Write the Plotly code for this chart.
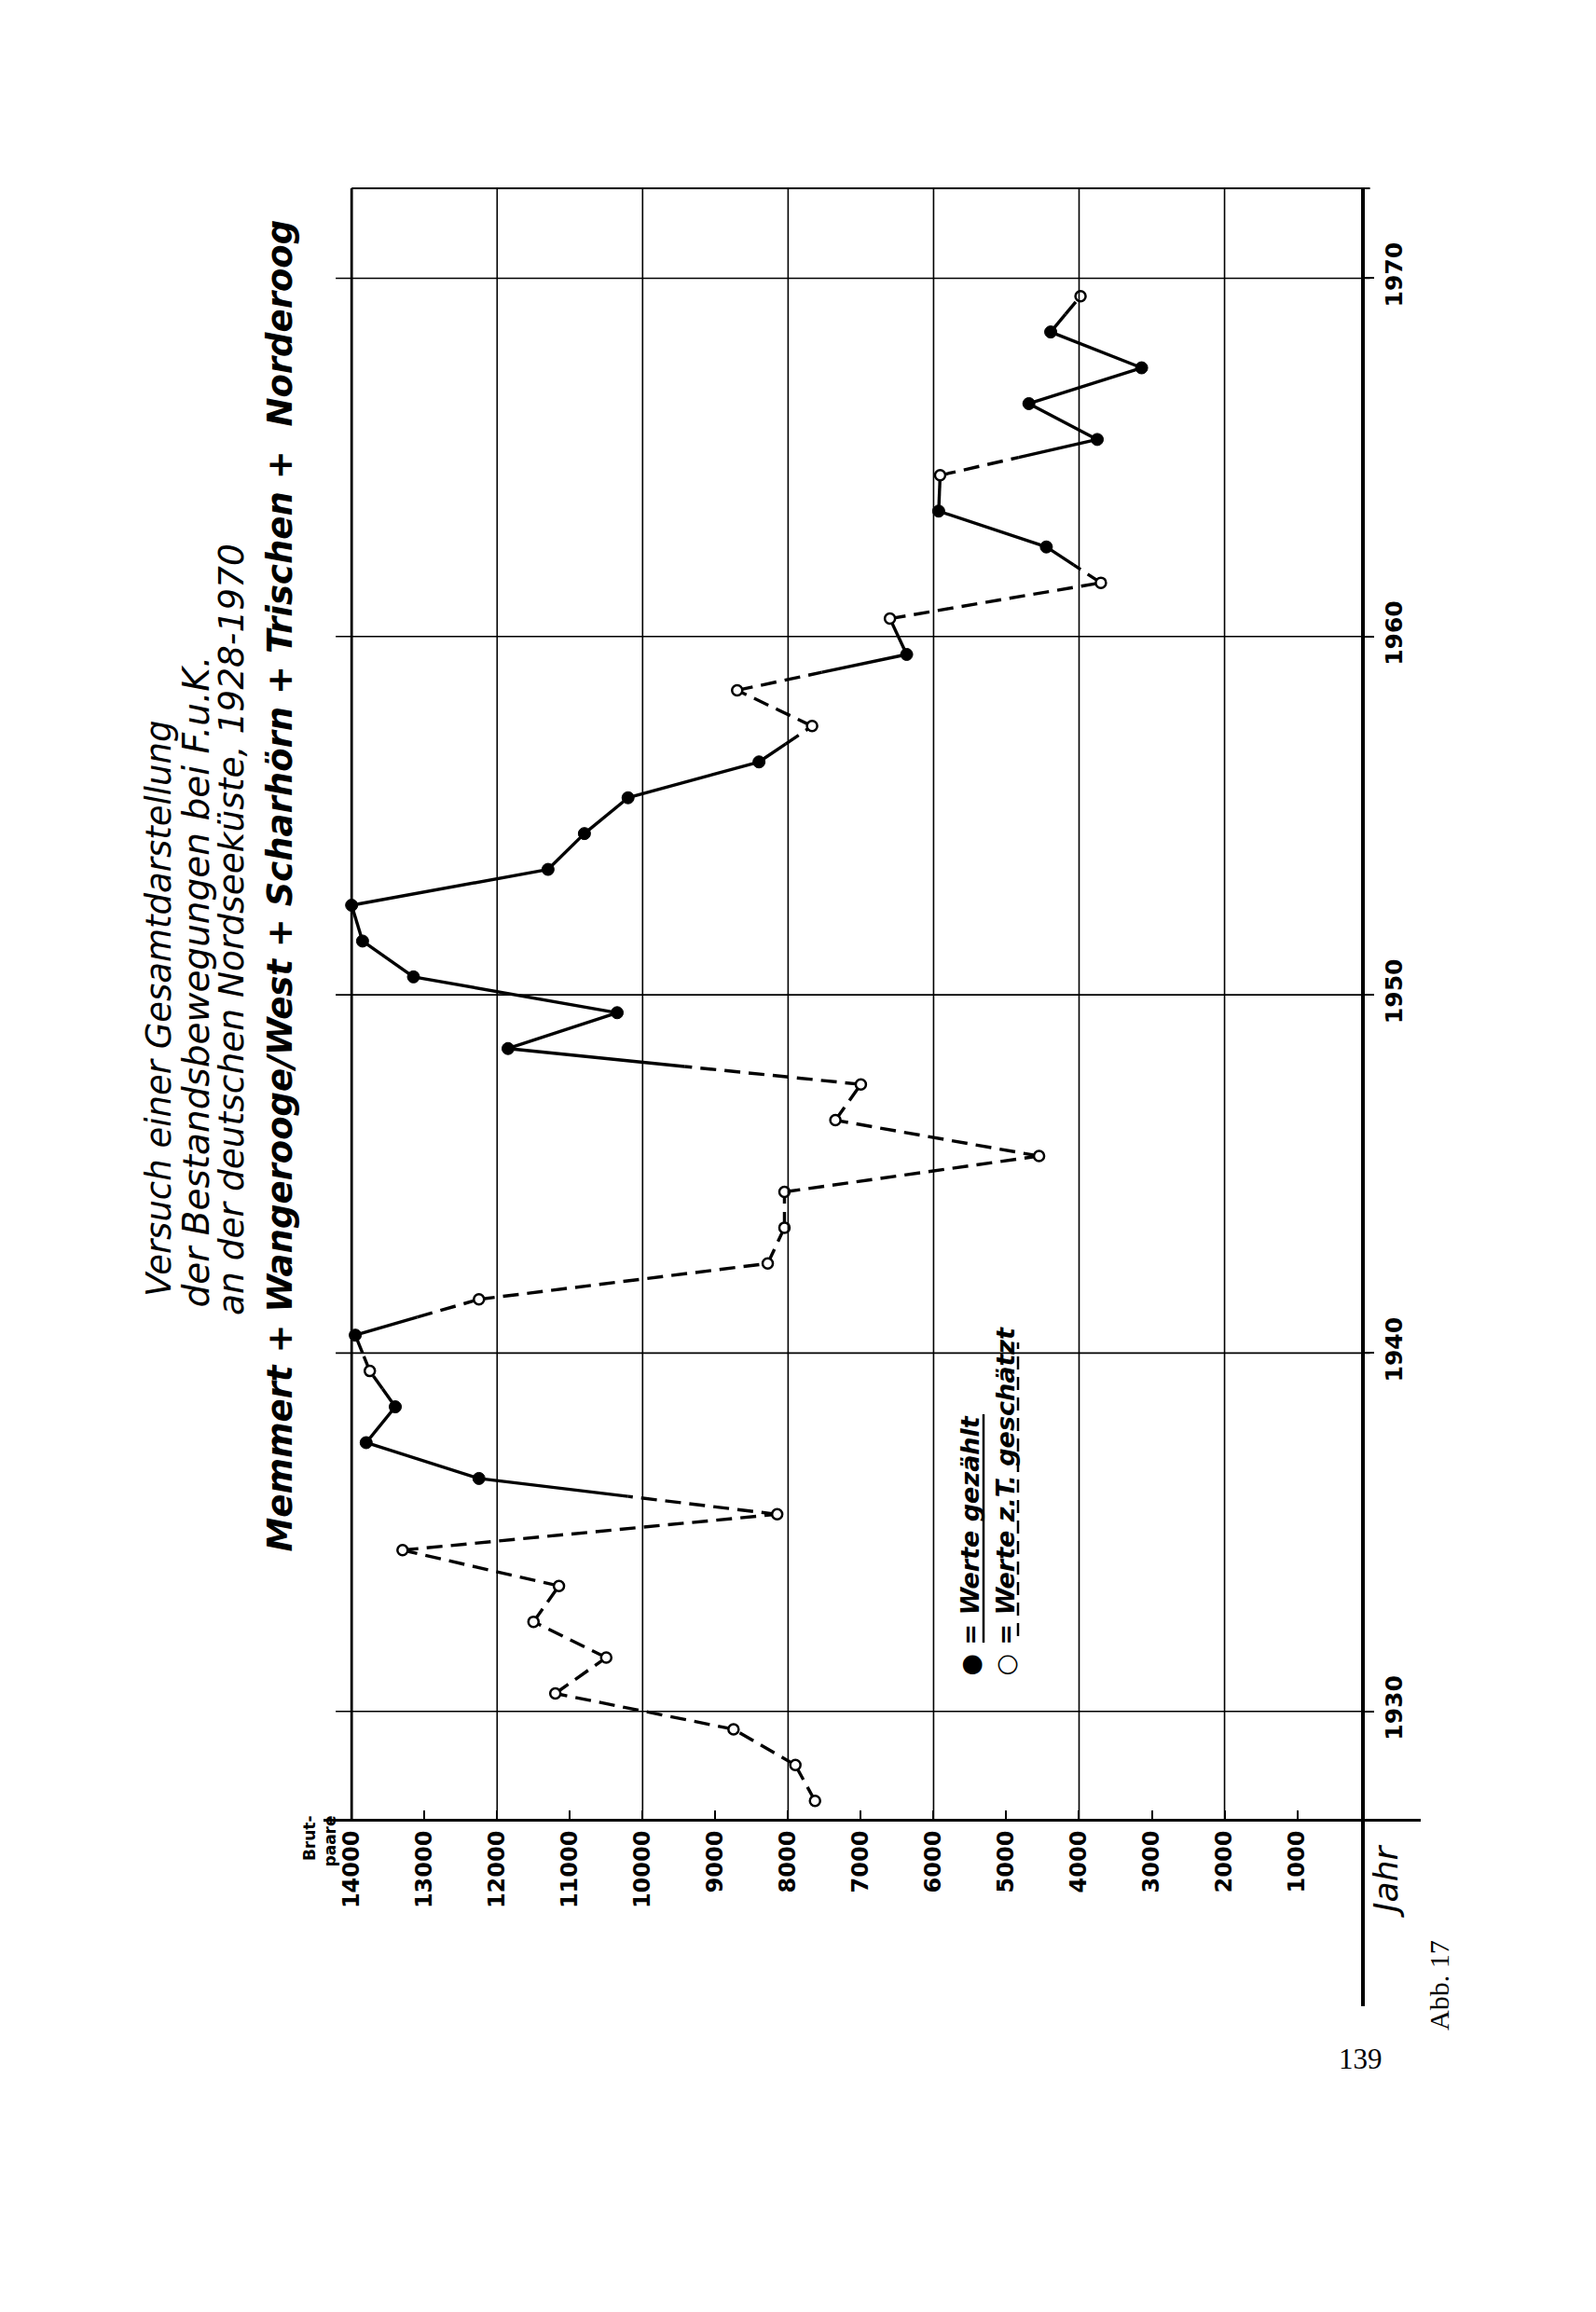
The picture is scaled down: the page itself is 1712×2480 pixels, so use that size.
import plotly.graph_objects as go

# ---------------- data ----------------
YEARS = list(range(1928, 1971))
PAIRS = [7630, 7900, 8750, 11200, 10500, 11500, 11150, 13300, 8150, 12250,
         13800, 13400, 13750, 13950, 12250, 8280, 8050, 8050, 4550, 7350,
         7000, 11850, 10350, 13150, 13850, 14000, 11300, 10800, 10200, 8400,
         7670, 8700, 6370, 6600, 3700, 4450, 5930, 5910, 3750, 4690,
         3140, 4390, 3980]
# True = "Werte gezählt" (filled dot), False = "Werte z.T. geschätzt" (open circle)
COUNTED = [False, False, False, False, False, False, False, False, False, True,
           True, True, False, True, False, False, False, False, False, False,
           False, True, True, True, True, True, True, True, True, True,
           False, False, True, False, False, True, True, False, True, True,
           True, True, False]

VALUE_TICKS = list(range(1000, 15000, 1000))
VALUE_TICK_TEXT = [str(v) for v in VALUE_TICKS]
GRID_VALUES = list(range(2000, 15000, 2000))
YEAR_TICKS = [1930, 1940, 1950, 1960, 1970]
YEAR_TICK_TEXT = [str(y) for y in YEAR_TICKS]

TITLE_LINES = ["Versuch einer Gesamtdarstellung",
               "der Bestandsbewegungen bei F.u.K.",
               "an der deutschen Nordseeküste, 1928-1970"]
TITLE_ISLANDS = "Memmert + Wangerooge/West + Scharhörn + Trischen +  Norderoog"
LEGEND_LABELS = ["Werte gezählt", "Werte z.T. geschätzt"]
VALUE_AXIS_LABEL = "Brut-<br>paare"
YEAR_AXIS_LABEL = "Jahr"
FIG_LABEL = "Abb. 17"
PAGE_NO = "139"

# ---------------- layout geometry ----------------
OFF = 8  # default body margin of the html page
W, H = 1712 - OFF, 2480 - OFF
# plot area in page pixels: left 347, right 1516, top 202, bottom 1943
L, R, T, B = 347 - OFF, 1712 - 1516 - OFF, 202 - OFF, 2480 - 1943 - OFF
PW, PH = W - L - R, H - T - B
X_RANGE = [14387, -697]
Y_RANGE = [1927.0, 1972.51]


def pxp(x):
    """page pixel x -> paper coordinate"""
    return (x - OFF - L) / PW


def pyp(y):
    """page pixel y -> paper coordinate"""
    return (H - B - (y - OFF)) / PH


FONT = "DejaVu Sans"

# each year is drawn in the middle of its year band, as in the original
ypos = [y - 0.5 for y in YEARS]

solid_x, solid_y, dash_x, dash_y = [], [], [], []
for i in range(len(YEARS) - 1):
    x0, y0, x1, y1 = PAIRS[i], ypos[i], PAIRS[i + 1], ypos[i + 1]
    c0, c1 = COUNTED[i], COUNTED[i + 1]
    if c0 and c1:
        solid_x += [x0, x1, None]
        solid_y += [y0, y1, None]
    elif not c0 and not c1:
        dash_x += [x0, x1, None]
        dash_y += [y0, y1, None]
    else:
        mx, my = (x0 + x1) / 2, (y0 + y1) / 2
        if c0:
            solid_x += [x0, mx, None]
            solid_y += [y0, my, None]
            dash_x += [mx, x1, None]
            dash_y += [my, y1, None]
        else:
            dash_x += [x0, mx, None]
            dash_y += [y0, my, None]
            solid_x += [mx, x1, None]
            solid_y += [my, y1, None]

fig = go.Figure()
fig.add_trace(go.Scatter(x=solid_x, y=solid_y, mode="lines",
                         line=dict(color="black", width=3.4),
                         hoverinfo="skip", showlegend=False))
fig.add_trace(go.Scatter(x=dash_x, y=dash_y, mode="lines",
                         line=dict(color="black", width=3.4, dash="17px,9px"),
                         hoverinfo="skip", showlegend=False))
fig.add_trace(go.Scatter(
    x=[v for v, c in zip(PAIRS, COUNTED) if c],
    y=[y for y, c in zip(ypos, COUNTED) if c],
    mode="markers", marker=dict(size=13, color="black", line=dict(width=1, color="black")),
    showlegend=False))
fig.add_trace(go.Scatter(
    x=[v for v, c in zip(PAIRS, COUNTED) if not c],
    y=[y for y, c in zip(ypos, COUNTED) if not c],
    mode="markers", marker=dict(size=11, color="white", line=dict(width=2.5, color="black")),
    showlegend=False))

shapes = []
# vertical grid lines
for v in GRID_VALUES:
    shapes.append(dict(type="line", xref="x", yref="paper", x0=v, x1=v, y0=0, y1=1,
                       line=dict(color="black", width=2.8 if v == 14000 else 1.6)))
# horizontal (year) grid lines
for yv in YEAR_TICKS:
    shapes.append(dict(type="line", xref="x", yref="y", x0=14219, x1=0, y0=yv, y1=yv,
                       line=dict(color="black", width=1.6)))
# top frame line
shapes.append(dict(type="line", xref="x", yref="paper", x0=14000, x1=0, y0=1, y1=1,
                   line=dict(color="black", width=1.8)))
# extension of the heavy year axis below the value axis
shapes.append(dict(type="line", xref="paper", yref="paper", x0=pxp(1462), x1=pxp(1462),
                   y0=0, y1=pyp(2152), line=dict(color="black", width=4)))
# legend underlines
shapes.append(dict(type="line", xref="paper", yref="paper", x0=pxp(1055), x1=pxp(1055),
                   y0=pyp(1762), y1=pyp(1517), line=dict(color="black", width=2.5)))
shapes.append(dict(type="line", xref="paper", yref="paper", x0=pxp(1092), x1=pxp(1092),
                   y0=pyp(1755), y1=pyp(1440), line=dict(color="black", width=2.5, dash="14px,8px")))

annotations = []
title_spec = [(170, 1393, 37), (210, 1405, 39), (248, 1413, 37.5)]
for txt, (xx, yb, fs) in zip(TITLE_LINES, title_spec):
    annotations.append(dict(text=txt, xref="paper", yref="paper", x=pxp(xx), y=pyp(yb),
                            xanchor="center", yanchor="bottom", textangle=-90, showarrow=False,
                            font=dict(family=FONT, size=fs, color="black", style="italic")))
annotations.append(dict(text=TITLE_ISLANDS, xref="paper", yref="paper", x=pxp(300), y=pyp(1667),
                        xanchor="center", yanchor="bottom", textangle=-90, showarrow=False,
                        font=dict(family=FONT, size=37, color="black", style="italic", weight="bold")))
# legend
annotations.append(dict(text="● = " + LEGEND_LABELS[0], xref="paper", yref="paper",
                        x=pxp(1040), y=pyp(1800), xanchor="center", yanchor="bottom",
                        textangle=-90, showarrow=False,
                        font=dict(family=FONT, size=27, color="black", style="italic", weight="bold")))
annotations.append(dict(text="○ = " + LEGEND_LABELS[1], xref="paper", yref="paper",
                        x=pxp(1078), y=pyp(1800), xanchor="center", yanchor="bottom",
                        textangle=-90, showarrow=False,
                        font=dict(family=FONT, size=27, color="black", style="italic", weight="bold")))
# axis labels
annotations.append(dict(text=VALUE_AXIS_LABEL, xref="paper", yref="paper", x=pxp(342), y=pyp(1946),
                        xanchor="center", yanchor="top", textangle=-90, align="right", showarrow=False,
                        font=dict(family=FONT, size=17, color="black", weight="bold")))
annotations.append(dict(text=YEAR_AXIS_LABEL, xref="paper", yref="paper", x=pxp(1487), y=pyp(2018),
                        xanchor="center", yanchor="middle", textangle=-90, showarrow=False,
                        font=dict(family=FONT, size=36, color="black", style="italic")))
annotations.append(dict(text=FIG_LABEL, xref="paper", yref="paper", x=pxp(1543), y=pyp(2130),
                        xanchor="center", yanchor="middle", textangle=-90, showarrow=False,
                        font=dict(family="Liberation Serif", size=30, color="black")))
annotations.append(dict(text=PAGE_NO, xref="paper", yref="paper", x=pxp(1459), y=pyp(2208),
                        xanchor="center", yanchor="middle", showarrow=False,
                        font=dict(family="Liberation Serif", size=31, color="black")))

fig.update_layout(
    width=W, height=H, autosize=False,
    margin=dict(l=L, r=R, t=T, b=B, pad=0),
    paper_bgcolor="white", plot_bgcolor="white",
    showlegend=False,
    shapes=shapes, annotations=annotations,
    xaxis=dict(range=X_RANGE, tickvals=VALUE_TICKS, ticktext=VALUE_TICK_TEXT, tickangle=-90,
               ticks="inside", ticklen=9, tickwidth=2, tickcolor="black",
               showline=True, linewidth=3, linecolor="black",
               showgrid=False, zeroline=False,
               tickfont=dict(family=FONT, size=24, color="black", weight="bold")),
    yaxis=dict(range=Y_RANGE, side="right", anchor="free", position=pxp(1462),
               tickvals=YEAR_TICKS, ticktext=YEAR_TICK_TEXT, tickangle=-90,
               ticks="outside", ticklen=10, tickwidth=1.6, tickcolor="black",
               showline=True, linewidth=4, linecolor="black",
               showgrid=False, zeroline=False,
               tickfont=dict(family=FONT, size=25, color="black", weight="bold")),
)

fig.write_html("out.html")
